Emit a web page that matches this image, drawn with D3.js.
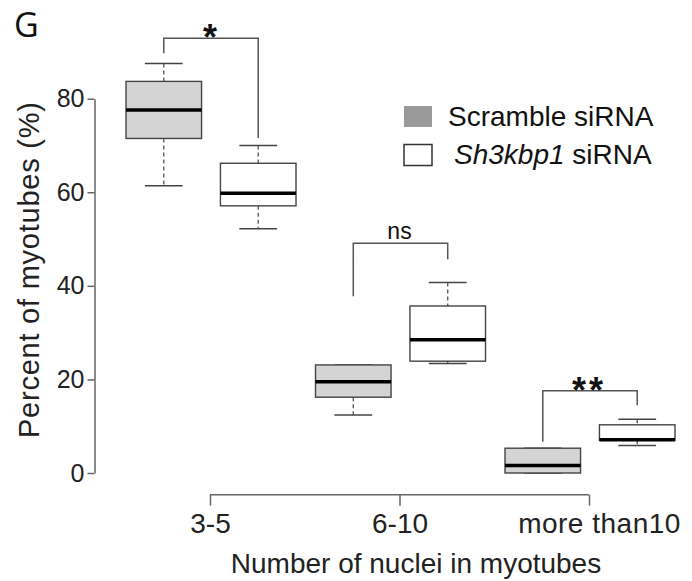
<!DOCTYPE html>
<html>
<head>
<meta charset="utf-8">
<script src="https://cdn.jsdelivr.net/npm/d3@7"></script>
<style>
  html, body { margin: 0; padding: 0; background: #fff; }
  svg { display: block; }
</style>
</head>
<body>
<div id="chart"></div>
<script>
// ---- data ----
const categories = ["3-5", "6-10", "more than10"];
const groups = ["Scramble siRNA", "Sh3kbp1 siRNA"];
const yTicks = [0, 20, 40, 60, 80];

const scrambleMin    = [61.4, 12.4, 0.0];
const scrambleQ1     = [71.5, 16.2, 0.0];
const scrambleMedian = [77.6, 19.5, 1.6];
const scrambleQ3     = [83.7, 23.1, 5.3];
const scrambleMax    = [87.5, 23.1, 5.3];

const sh3Min    = [52.2, 23.4, 5.9];
const sh3Q1     = [57.1, 23.9, 7.0];
const sh3Median = [59.8, 28.5, 7.1];
const sh3Q3     = [66.2, 35.7, 10.3];
const sh3Max    = [70.0, 40.7, 11.5];

const sigLabels   = ["*", "ns", "**"];
const sigTop      = [92.9, 49.1, 17.6];
const sigLeftEnd  = [89.7, 37.8, 6.7];
const sigRightEnd = [71.6, 45.7, 14.5];

// ---- build ----
const W = 692, H = 581;
const svg = d3.select("#chart").append("svg").attr("width", W).attr("height", H);

const y = d3.scaleLinear().domain([0, 80]).range([473, 98.7]);
const x = d3.scalePoint().domain(categories).range([210, 589]);
const xg = d3.scaleBand().domain(groups).range([-84, 86]).paddingInner(0.2);

const fills = { "Scramble siRNA": "#d4d4d4", "Sh3kbp1 siRNA": "#ffffff" };
const legendFills = { "Scramble siRNA": "#9a9a9a", "Sh3kbp1 siRNA": "#ffffff" };

const boxes = [];
categories.forEach((c, i) => {
  boxes.push({cat: c, grp: groups[0], min: scrambleMin[i], q1: scrambleQ1[i], med: scrambleMedian[i], q3: scrambleQ3[i], max: scrambleMax[i]});
  boxes.push({cat: c, grp: groups[1], min: sh3Min[i], q1: sh3Q1[i], med: sh3Median[i], q3: sh3Q3[i], max: sh3Max[i]});
});

const bw = xg.bandwidth();
const cx = d => x(d.cat) + xg(d.grp) + bw / 2;

const g = svg.append("g");
const bx = g.selectAll("g.box").data(boxes).join("g").attr("class", "box");

// whiskers (dashed)
bx.append("line")
  .attr("x1", cx).attr("x2", cx)
  .attr("y1", d => y(d.max)).attr("y2", d => y(d.q3))
  .attr("stroke", "#555").attr("stroke-width", 1.3).attr("stroke-dasharray", "4,3");
bx.append("line")
  .attr("x1", cx).attr("x2", cx)
  .attr("y1", d => y(d.q1)).attr("y2", d => y(d.min))
  .attr("stroke", "#555").attr("stroke-width", 1.3).attr("stroke-dasharray", "4,3");
// caps
bx.append("line")
  .attr("x1", d => cx(d) - bw / 4).attr("x2", d => cx(d) + bw / 4)
  .attr("y1", d => y(d.max)).attr("y2", d => y(d.max))
  .attr("stroke", "#444").attr("stroke-width", 1.5);
bx.append("line")
  .attr("x1", d => cx(d) - bw / 4).attr("x2", d => cx(d) + bw / 4)
  .attr("y1", d => y(d.min)).attr("y2", d => y(d.min))
  .attr("stroke", "#444").attr("stroke-width", 1.5);
// box
bx.append("rect")
  .attr("x", d => cx(d) - bw / 2).attr("width", bw)
  .attr("y", d => y(d.q3)).attr("height", d => y(d.q1) - y(d.q3))
  .attr("fill", d => fills[d.grp]).attr("stroke", "#444").attr("stroke-width", 1.4);
// median
bx.append("line")
  .attr("x1", d => cx(d) - bw / 2).attr("x2", d => cx(d) + bw / 2)
  .attr("y1", d => y(d.med)).attr("y2", d => y(d.med))
  .attr("stroke", "#000").attr("stroke-width", 3.5);

// significance brackets
const sig = categories.map((c, i) => ({cat: c, label: sigLabels[i], top: sigTop[i], l: sigLeftEnd[i], r: sigRightEnd[i]}));
const sg = g.selectAll("g.sig").data(sig).join("g").attr("class", "sig");
sg.append("path")
  .attr("d", d => {
    const xl = x(d.cat) + xg(groups[0]) + bw / 2;
    const xr = x(d.cat) + xg(groups[1]) + bw / 2;
    return `M${xl},${y(d.l)}V${y(d.top)}H${xr}V${y(d.r)}`;
  })
  .attr("fill", "none").attr("stroke", "#555").attr("stroke-width", 1.5);
sg.append("text")
  .attr("x", d => x(d.cat))
  .attr("y", d => d.label === "ns" ? y(d.top) - 4 : y(d.top) + 12)
  .attr("text-anchor", "middle")
  .attr("font-family", "Liberation Sans, Arial, sans-serif")
  .attr("font-size", d => d.label === "ns" ? 23 : 36)
  .attr("font-weight", d => d.label === "ns" ? "normal" : "bold")
  .attr("letter-spacing", d => d.label === "**" ? 3 : 0)
  .attr("fill", "#111")
  .text(d => d.label);

// y axis
const yAxis = g.append("g").attr("transform", "translate(94.5,0)")
  .call(d3.axisLeft(y).tickValues(yTicks).tickSize(7).tickPadding(3).tickSizeOuter(0));
yAxis.select(".domain").attr("stroke", "#666").attr("stroke-width", 1.5);
yAxis.selectAll(".tick line").attr("stroke", "#666").attr("stroke-width", 1.5);
yAxis.selectAll(".tick text")
  .attr("font-family", "Liberation Sans, Arial, sans-serif")
  .attr("font-size", 25).attr("fill", "#222");

// x axis
const xAxis = g.append("g").attr("transform", "translate(0,494.7)")
  .call(d3.axisBottom(x).tickSize(12).tickPadding(6).tickSizeOuter(0));
xAxis.select(".domain").attr("stroke", "#666").attr("stroke-width", 1.5)
  .attr("d", `M${x(categories[0])},0H${x(categories[categories.length - 1])}`);
xAxis.selectAll(".tick line").attr("stroke", "#666").attr("stroke-width", 1.5).attr("y1", 0).attr("y2", 11);
xAxis.selectAll(".tick text")
  .attr("font-family", "Liberation Sans, Arial, sans-serif")
  .attr("font-size", 28).attr("fill", "#222");
xAxis.selectAll(".tick text").filter(d => d === "more than10").attr("dx", 10).attr("letter-spacing", 0.5);

// axis titles
svg.append("text")
  .attr("x", 416).attr("y", 573)
  .attr("text-anchor", "middle")
  .attr("font-family", "Liberation Sans, Arial, sans-serif")
  .attr("font-size", 28).attr("fill", "#222")
  .text("Number of nuclei in myotubes");
svg.append("text")
  .attr("transform", "translate(39,270) rotate(-90)")
  .attr("text-anchor", "middle")
  .attr("font-family", "Liberation Sans, Arial, sans-serif")
  .attr("font-size", 29).attr("fill", "#222")
  .attr("textLength", 336).attr("lengthAdjust", "spacing")
  .text("Percent of myotubes (%)");

// panel letter
svg.append("text")
  .attr("x", 14).attr("y", 37)
  .attr("font-family", "Open Sans, Liberation Sans, sans-serif")
  .attr("font-size", 34).attr("fill", "#111")
  .text("G");

// legend
const lg = svg.append("g");
const li = lg.selectAll("g").data(groups).join("g")
  .attr("transform", (d, i) => `translate(404,${106 + i * 38.5})`);
li.append("rect")
  .attr("width", 28).attr("height", 21)
  .attr("fill", d => legendFills[d])
  .attr("stroke", d => d === groups[0] ? "none" : "#333").attr("stroke-width", 1.5);
const lt = li.append("text")
  .attr("x", 44).attr("y", 19.5)
  .attr("font-family", "Liberation Sans, Arial, sans-serif")
  .attr("font-size", 28).attr("fill", "#111");
lt.each(function(d) {
  const t = d3.select(this);
  if (d === groups[0]) {
    t.text(d);
  } else {
    t.attr("x", 50);
    t.append("tspan").attr("font-style", "italic").text("Sh3kbp1");
    t.append("tspan").text(" siRNA");
  }
});
</script>
</body>
</html>
